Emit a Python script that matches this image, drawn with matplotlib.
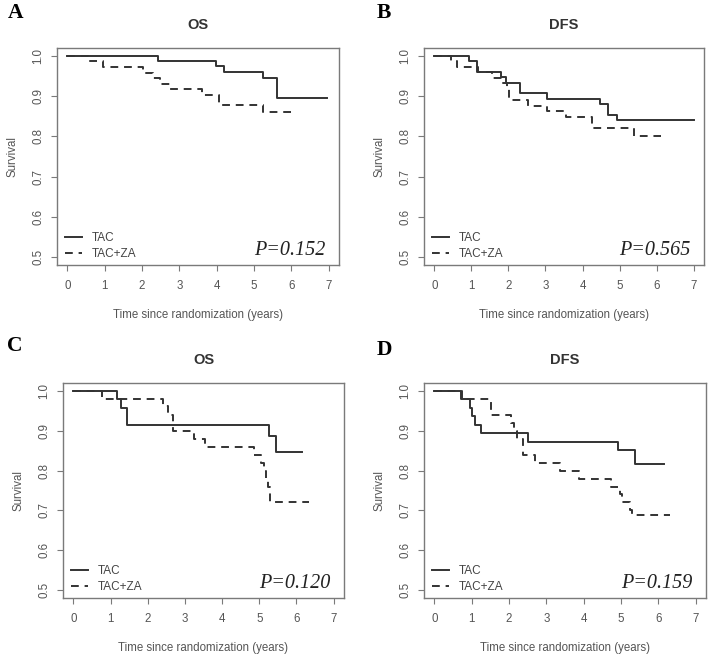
import matplotlib.pyplot as plt
from matplotlib.lines import Line2D

# Kaplan-Meier step data (time in years, survival)
a_tac_t = [0, 2.43, 3.98, 4.20, 5.25, 5.61, 6.95]
a_tac_s = [1.0, 0.988, 0.974, 0.960, 0.946, 0.895, 0.895]
a_za_t = [0, 0.55, 0.95, 2.03, 2.30, 2.48, 2.75, 3.60, 4.07, 5.25, 6.10]
a_za_s = [1.0, 0.988, 0.973, 0.959, 0.945, 0.931, 0.917, 0.903, 0.877, 0.860, 0.860]

b_tac_t = [0, 0.94, 1.15, 1.80, 1.93, 2.31, 3.03, 4.47, 4.68, 4.92, 7.0]
b_tac_s = [1.0, 0.988, 0.960, 0.947, 0.934, 0.907, 0.894, 0.880, 0.854, 0.840, 0.840]
b_za_t = [0, 0.45, 0.60, 1.19, 1.55, 1.80, 1.95, 2.02, 2.53, 3.03, 3.55, 4.25, 5.38, 6.13]
b_za_s = [1.0, 0.988, 0.972, 0.960, 0.946, 0.932, 0.917, 0.890, 0.876, 0.863, 0.849, 0.821, 0.800, 0.800]

c_tac_t = [0, 1.17, 1.27, 1.43, 5.25, 5.44, 6.15]
c_tac_s = [1.0, 0.980, 0.957, 0.915, 0.886, 0.846, 0.846]
c_za_t = [0, 0.77, 2.40, 2.55, 2.69, 3.24, 3.54, 4.87, 5.05, 5.12, 5.18, 5.24, 5.30, 6.33]
c_za_s = [1.0, 0.981, 0.961, 0.940, 0.900, 0.880, 0.860, 0.840, 0.820, 0.800, 0.780, 0.760, 0.721, 0.721]

d_tac_t = [0, 0.72, 0.94, 1.02, 1.09, 1.26, 2.50, 4.91, 5.37, 6.15]
d_tac_s = [1.0, 0.979, 0.957, 0.936, 0.915, 0.894, 0.873, 0.851, 0.817, 0.817]
d_za_t = [0, 0.74, 1.52, 2.06, 2.14, 2.20, 2.37, 2.70, 3.36, 3.88, 4.74, 4.97, 5.03, 5.24, 5.29, 6.31]
d_za_s = [1.0, 0.980, 0.940, 0.920, 0.900, 0.880, 0.840, 0.820, 0.800, 0.780, 0.760, 0.740, 0.720, 0.700, 0.688, 0.688]

letters = ['A', 'B', 'C', 'D']
titles = ['OS', 'DFS', 'OS', 'DFS']
pvals = ['P=0.152', 'P=0.565', 'P=0.120', 'P=0.159']
series = [(a_tac_t, a_tac_s, a_za_t, a_za_s),
          (b_tac_t, b_tac_s, b_za_t, b_za_s),
          (c_tac_t, c_tac_s, c_za_t, c_za_s),
          (d_tac_t, d_tac_s, d_za_t, d_za_s)]

# axes boxes in pixels: left, top, right, bottom
W, H = 709, 654
boxes = [(57, 48, 339, 265), (424, 48, 704, 265),
         (63, 383, 344, 598), (424, 383, 706, 598)]
letter_pos = [(8, 3), (377, 3), (7, 336), (377, 340)]

plt.rcParams['font.family'] = ['Liberation Sans', 'DejaVu Sans']
fig = plt.figure(figsize=(W / 100, H / 100), dpi=100)

line_col = '#333333'
grey = '#7a7a7a'
txt = '#555555'

for i in range(4):
    l, t, r, b = boxes[i]
    ax = fig.add_axes([l / W, 1 - b / H, (r - l) / W, (b - t) / H])
    tac_t, tac_s, za_t, za_s = series[i]
    ax.step(tac_t, tac_s, where='post', color=line_col, lw=1.4)
    ax.step(za_t, za_s, where='post', color=line_col, lw=1.4, dashes=(4, 3))

    ax.set_xlim(-0.28, 7.28)
    ax.set_ylim(0.48, 1.02)
    ax.set_xticks(range(8))
    ax.set_yticks([0.5, 0.6, 0.7, 0.8, 0.9, 1.0])
    ax.set_yticklabels(['0.5', '0.6', '0.7', '0.8', '0.9', '1.0'],
                       rotation=90, va='center')
    ax.tick_params(direction='out', length=4, width=0.8, colors=grey,
                   labelcolor=txt, labelsize=8.3)
    ax.tick_params(axis='x', pad=7)
    ax.tick_params(axis='y', pad=5)
    for s in ax.spines.values():
        s.set_color(grey)
        s.set_linewidth(1.0)

    ax.set_xlabel('Time since randomization (years)', fontsize=8.3,
                  color=txt, labelpad=12)
    ax.set_ylabel('Survival', fontsize=8.3, color=txt, labelpad=10)
    ax.set_title(titles[i], fontsize=10.5, fontweight='bold', color='#333333',
                 pad=14)

    handles = [Line2D([], [], color=line_col, lw=1.4),
               Line2D([], [], color=line_col, lw=1.4, dashes=(4, 3))]
    leg = ax.legend(handles, ['TAC', 'TAC+ZA'], loc='lower left',
                    frameon=False, fontsize=8.5, handlelength=1.5,
                    handletextpad=0.8, labelspacing=0.35,
                    borderaxespad=0.0, bbox_to_anchor=(0.01, 0.0))
    for tx in leg.get_texts():
        tx.set_color('#444444')

    ax.text(6.92, 0.505, pvals[i], ha='right', va='baseline',
            fontsize=14.5, style='italic', family='Liberation Serif',
            color='#222222')

    lx, ly = letter_pos[i]
    fig.text(lx / W, 1 - ly / H, letters[i], ha='left', va='top',
             fontsize=15.5, fontweight='bold', family='Liberation Serif')

fig.savefig('out.png', dpi=100)
